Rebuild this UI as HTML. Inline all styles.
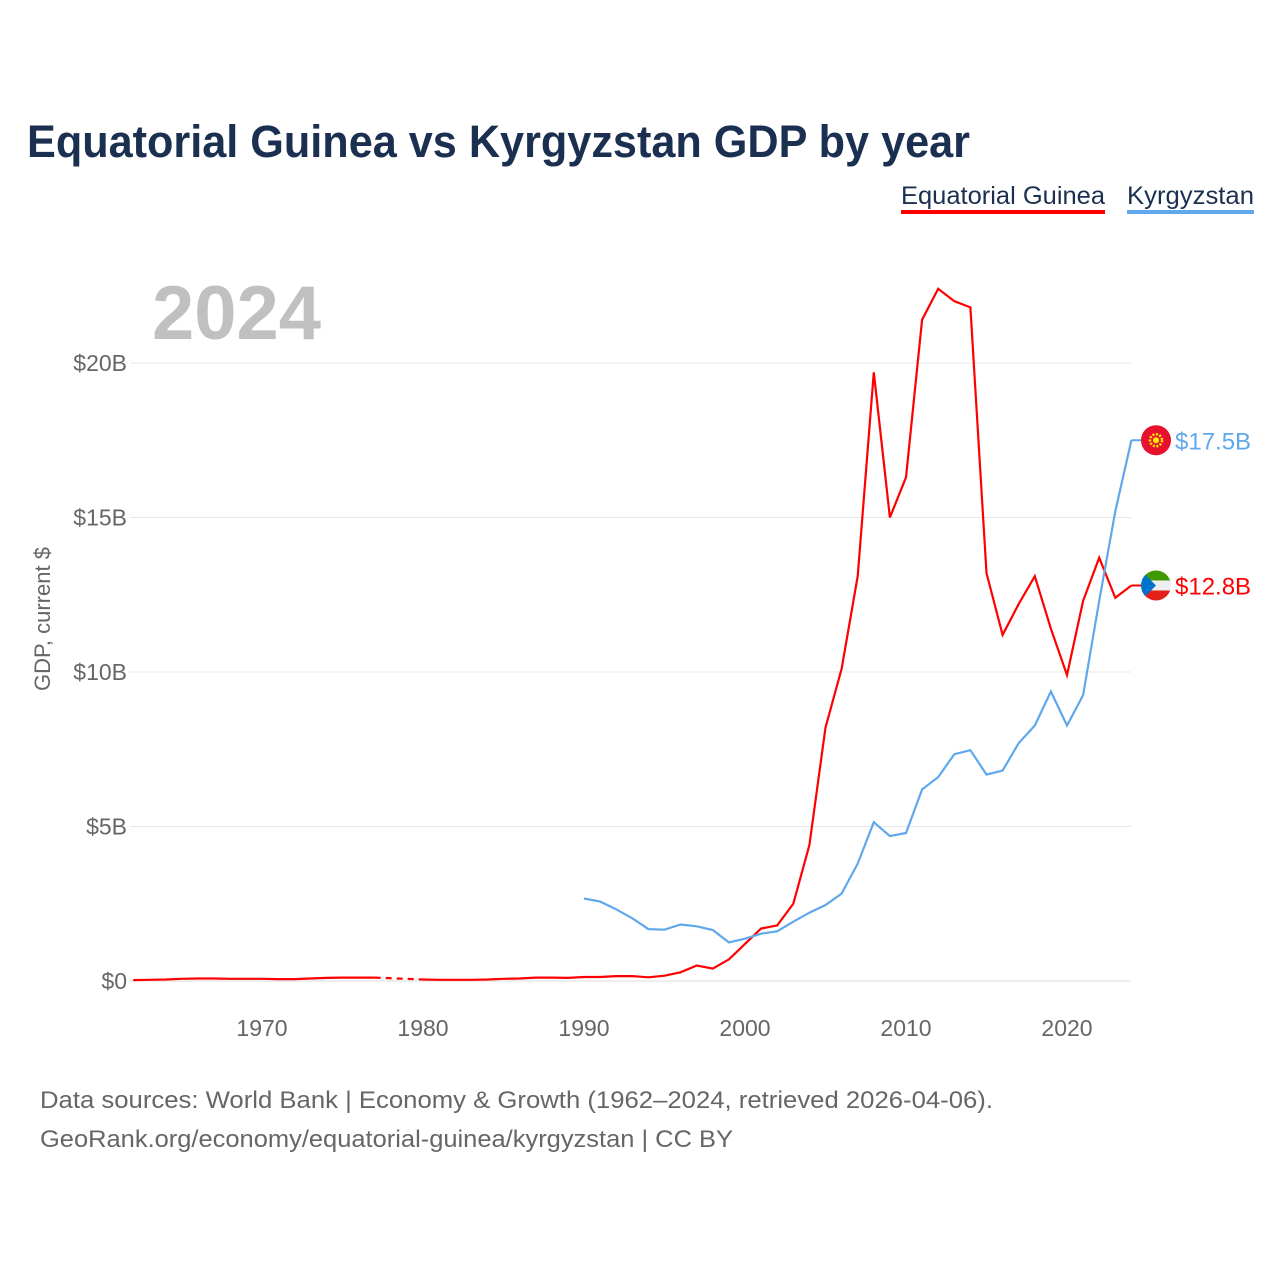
<!DOCTYPE html>
<html><head><meta charset="utf-8">
<style>
body{margin:0;background:#fff;font-family:"Liberation Sans",sans-serif;}
#wrap{position:relative;width:1280px;height:1280px;overflow:hidden;}
</style></head>
<body><div id="wrap">
<svg id="chart" width="1280" height="1280" xmlns="http://www.w3.org/2000/svg">
<text x="27" y="157" font-size="45" font-weight="bold" fill="#1b2f50" textLength="943" lengthAdjust="spacingAndGlyphs">Equatorial Guinea vs Kyrgyzstan GDP by year</text>
<g>
<text x="901" y="204" font-size="25" fill="#1b2f50" textLength="204" lengthAdjust="spacingAndGlyphs">Equatorial Guinea</text>
<rect x="901" y="210" width="204" height="4" fill="#ff0000"/></g>
<g>
<text x="1127" y="204" font-size="25" fill="#1b2f50" textLength="127" lengthAdjust="spacingAndGlyphs">Kyrgyzstan</text>
<rect x="1127" y="210" width="127" height="4" fill="#5fa8eb"/></g>
<text x="152" y="339" font-size="76" font-weight="bold" fill="#c0c0c0">2024</text>
<text transform="translate(50,619) rotate(-90)" text-anchor="middle" font-size="22" fill="#666">GDP, current $</text>
<g id="grid"></g><g id="lines"></g><g id="ends"></g>
<text x="40" y="1108" font-size="24" fill="#666" textLength="953" lengthAdjust="spacingAndGlyphs">Data sources: World Bank | Economy &amp; Growth (1962–2024, retrieved 2026-04-06).</text>
<text x="40" y="1147" font-size="24" fill="#666" textLength="693" lengthAdjust="spacingAndGlyphs">GeoRank.org/economy/equatorial-guinea/kyrgyzstan | CC BY</text>
</svg></div>
<script>
const yTicks=[0,5,10,15,20];
const yTickLabels=["$0","$5B","$10B","$15B","$20B"];
const xTicks=[1970,1980,1990,2000,2010,2020];
const eqgYears=[1962,1963,1964,1965,1966,1967,1968,1969,1970,1971,1972,1973,1974,1975,1976,1977,1980,1981,1982,1983,1984,1985,1986,1987,1988,1989,1990,1991,1992,1993,1994,1995,1996,1997,1998,1999,2000,2001,2002,2003,2004,2005,2006,2007,2008,2009,2010,2011,2012,2013,2014,2015,2016,2017,2018,2019,2020,2021,2022,2023,2024];
const eqgValues=[0.03,0.04,0.05,0.07,0.08,0.08,0.07,0.07,0.07,0.06,0.06,0.08,0.1,0.11,0.11,0.11,0.05,0.04,0.04,0.04,0.05,0.07,0.08,0.11,0.11,0.1,0.13,0.13,0.16,0.16,0.12,0.17,0.28,0.5,0.4,0.7,1.2,1.7,1.8,2.5,4.4,8.2,10.1,13.1,19.7,15.0,16.3,21.4,22.4,22.0,21.8,13.2,11.2,12.2,13.1,11.4,9.9,12.3,13.7,12.4,12.8];
const kgzYears=[1990,1991,1992,1993,1994,1995,1996,1997,1998,1999,2000,2001,2002,2003,2004,2005,2006,2007,2008,2009,2010,2011,2012,2013,2014,2015,2016,2017,2018,2019,2020,2021,2022,2023,2024];
const kgzValues=[2.67,2.57,2.32,2.03,1.68,1.66,1.83,1.77,1.65,1.25,1.37,1.53,1.61,1.92,2.21,2.46,2.83,3.8,5.14,4.69,4.79,6.2,6.6,7.34,7.47,6.68,6.81,7.7,8.27,9.37,8.27,9.25,12.3,15.2,17.5];
const X=y=>133.2+(y-1962)*16.1;
const Y=v=>981-v*30.9;
const NS="http://www.w3.org/2000/svg";
function mk(t,a,p){const e=document.createElementNS(NS,t);for(const k in a)e.setAttribute(k,a[k]);p.appendChild(e);return e;}
const grid=document.getElementById('grid'),lines=document.getElementById('lines'),ends=document.getElementById('ends');
yTicks.forEach((v,i)=>{
 const l=mk('line',{x1:130,x2:1131,y1:Y(v),y2:Y(v),stroke:v===0?'#ddd':'#e8e8e8','stroke-width':1},grid);
 
 
 const t=mk('text',{x:127,y:Y(v)+8,'text-anchor':'end','font-size':23,fill:'#666'},grid);t.textContent=yTickLabels[i];
 
 
});
xTicks.forEach(v=>{
 const t=mk('text',{x:X(v),y:1036,'text-anchor':'middle','font-size':23,fill:'#666'},grid);t.textContent=v;
 
 
});
function path(ys,vs,from,to){let d='';for(let i=from;i<=to;i++)d+=(i===from?'M':'L')+X(ys[i]).toFixed(1)+','+Y(vs[i]).toFixed(1);return d;}
const gap=eqgYears.indexOf(1977);
let p=mk('path',{d:path(eqgYears,eqgValues,0,gap),fill:'none',stroke:'#ff0000','stroke-width':2.2},lines);


p=mk('path',{d:path(eqgYears,eqgValues,gap,gap+1),fill:'none',stroke:'#ff0000','stroke-width':2.2,'stroke-dasharray':'6,5'},lines);


p=mk('path',{d:path(eqgYears,eqgValues,gap+1,eqgYears.length-1),fill:'none',stroke:'#ff0000','stroke-width':2.2},lines);


p=mk('path',{d:path(kgzYears,kgzValues,0,kgzYears.length-1),fill:'none',stroke:'#5fa8eb','stroke-width':2.2},lines);


function endLabel(v,col,name,flag){
 const y=Y(v);
 mk('line',{x1:X(2024),x2:1142,y1:y,y2:y,stroke:col,'stroke-width':2},ends);
 const g=mk('g',{},ends);
 
 
 flag(g,y);
 const t=mk('text',{x:1175,y:y+9,'font-size':24,fill:col},g);t.textContent='$'+v.toFixed(1)+'B';
}
endLabel(kgzValues[kgzValues.length-1],'#5fa8eb','kyrgyzstan',(g,y)=>{
 mk('circle',{cx:1156,cy:y,r:15,fill:'#e8112d'},g);
 mk('circle',{cx:1156,cy:y,r:6,fill:'none',stroke:'#ffef00','stroke-width':2.5,'stroke-dasharray':'2,1.5'},g);
 mk('circle',{cx:1156,cy:y,r:3,fill:'#ffef00'},g);
});
endLabel(eqgValues[eqgValues.length-1],'#ff0000','equatorial-guinea',(g,y)=>{
 mk('clipPath',{id:'fc'},g).appendChild(document.createElementNS(NS,'circle'));
 const c=g.querySelector('clipPath circle');c.setAttribute('cx',1156);c.setAttribute('cy',y);c.setAttribute('r',15);
 const h=mk('g',{'clip-path':'url(#fc)'},g);
 mk('rect',{x:1141,y:y-15,width:30,height:10,fill:'#3e9a00'},h);
 mk('rect',{x:1141,y:y-5,width:30,height:10,fill:'#eee'},h);
 mk('rect',{x:1141,y:y+5,width:30,height:10,fill:'#e32118'},h);
 mk('path',{d:`M1141,${y-15}L1156,${y}L1141,${y+15}Z`,fill:'#0073ce'},h);
});
</script></body></html>
